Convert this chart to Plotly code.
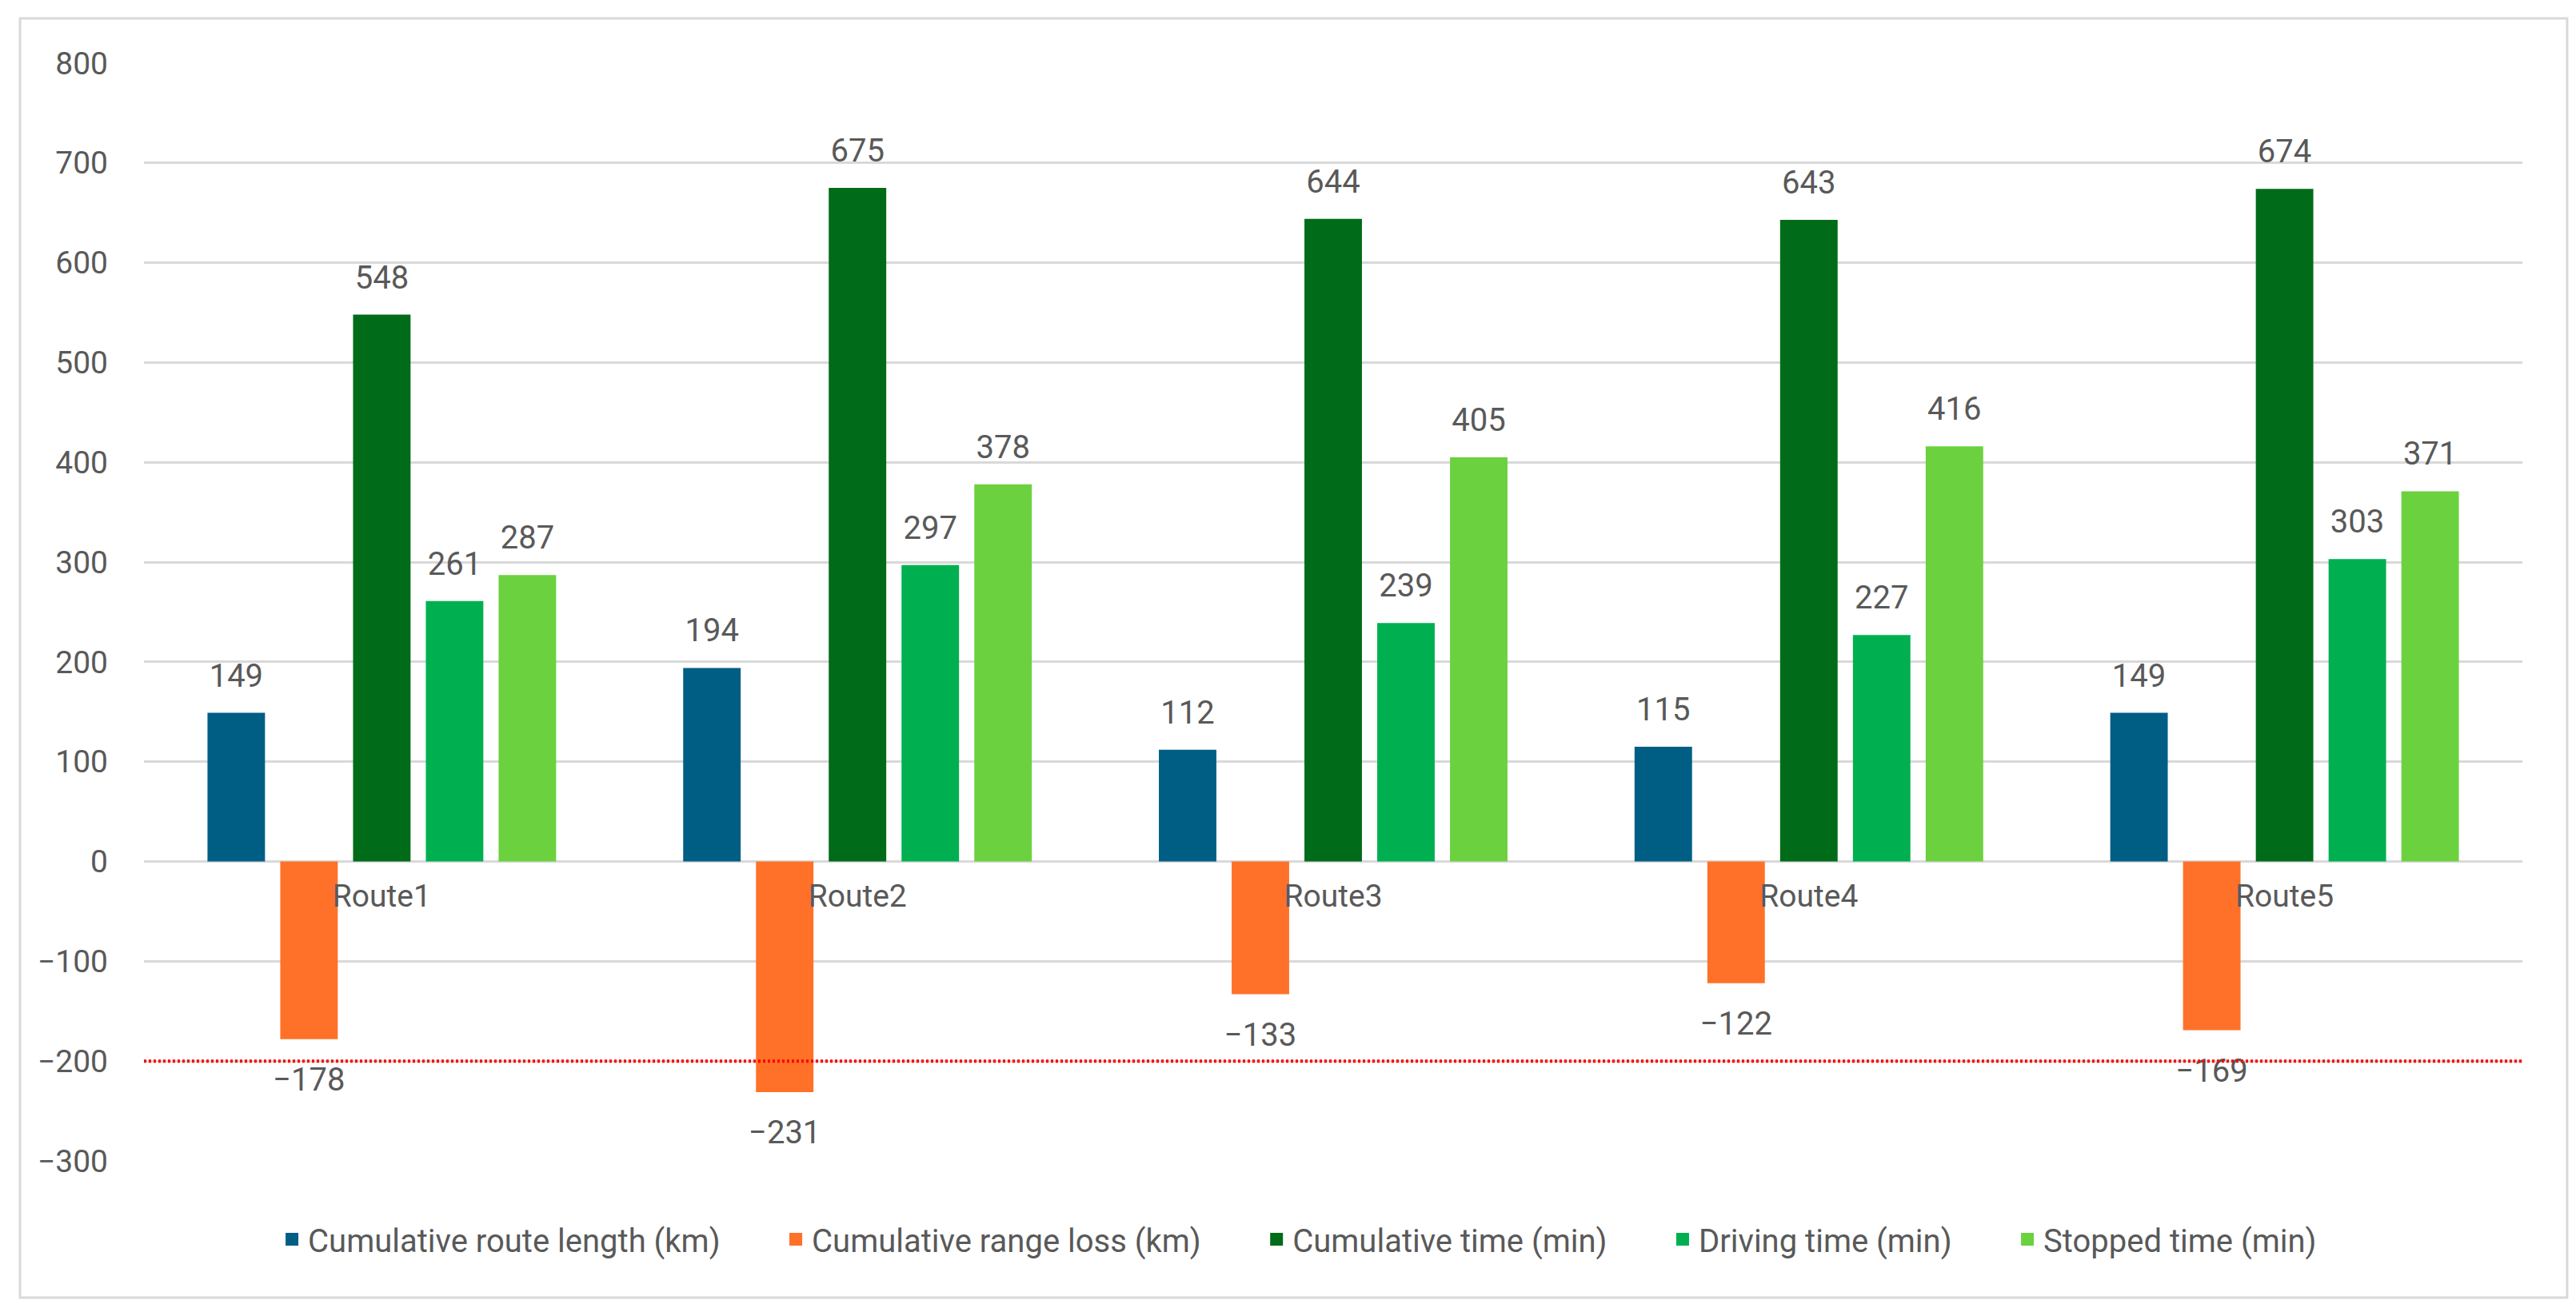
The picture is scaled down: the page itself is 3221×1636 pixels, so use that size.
import plotly.graph_objects as go

routes = ["Route1", "Route2", "Route3", "Route4", "Route5"]
route_length = [149, 194, 112, 115, 149]
range_loss = [-178, -231, -133, -122, -169]
cumulative_time = [548, 675, 644, 643, 674]
driving_time = [261, 297, 239, 227, 303]
stopped_time = [287, 378, 405, 416, 371]
threshold = -200

series_names = [
    "Cumulative route length (km)",
    "Cumulative range loss (km)",
    "Cumulative time (min)",
    "Driving time (min)",
    "Stopped time (min)",
]
series_values = [route_length, range_loss, cumulative_time, driving_time, stopped_time]
colors = ["#005E85", "#FF7128", "#006B18", "#00B050", "#6CD13F"]

GRAY = "#595959"
FONT = "Roboto"
LABEL_FS = 40
TICK_FS = 39
LEG_FS = 40
BARGAP = 0.235


def fmt(v):
    return ("\u2212" + str(-v)) if v < 0 else str(v)


fig = go.Figure()
for i, (name, vals, col) in enumerate(zip(series_names, series_values, colors)):
    fig.add_trace(go.Bar(
        x=routes, y=vals, name=name, showlegend=False, offsetgroup=f"g{i}",
        marker=dict(color=col, line=dict(width=0)),
    ))

# data labels: text placed at each bar end, grouped the same way as the bars
for i, (name, vals) in enumerate(zip(series_names, series_values)):
    neg = all(v < 0 for v in vals)
    fig.add_trace(go.Scatter(
        x=routes, y=vals, mode="markers+text", showlegend=False, offsetgroup=f"g{i}",
        marker=dict(size=53.4 if neg else 35.2, opacity=0),
        text=[fmt(v) for v in vals],
        textposition="bottom center" if neg else "top center",
        textfont=dict(family=FONT, size=LABEL_FS, color=GRAY),
        cliponaxis=False, hoverinfo="skip",
    ))

# legend entries with square swatches (non-breaking spaces widen the gap between entries)
pad = "\u00a0" * 7
for i, (name, col) in enumerate(zip(series_names, colors)):
    fig.add_trace(go.Scatter(
        x=[None], y=[None], mode="markers", offsetgroup=f"g{i}",
        name=name + (pad if i < len(series_names) - 1 else ""),
        marker=dict(symbol="square", size=16, color=col),
        hoverinfo="skip",
    ))

ymin, ymax = -300, 800

fig.add_shape(type="line", xref="paper", x0=0, x1=1, yref="y", y0=threshold, y1=threshold,
              line=dict(color="#FF0000", width=4, dash="3px,3px"), layer="above")

# outer chart border
fig.add_shape(type="rect", xref="paper", yref="paper",
              x0=-0.0521, x1=1.0188, y0=-0.1245, y1=1.0408,
              line=dict(color="#D9D9D9", width=3), fillcolor="rgba(0,0,0,0)", layer="below")

fig.update_layout(
    width=3221, height=1636,
    margin=dict(l=172, r=75, t=71, b=192),
    paper_bgcolor="white", plot_bgcolor="white",
    barmode="group", bargap=BARGAP, bargroupgap=0.21,
    scattermode="group", scattergap=BARGAP,
    font=dict(family=FONT, size=TICK_FS, color=GRAY),
    showlegend=True,
    legend=dict(orientation="h", x=0.4854, xanchor="center", y=-0.0714, yanchor="middle",
                font=dict(family=FONT, size=LEG_FS, color=GRAY), itemclick=False,
                itemdoubleclick=False),
    xaxis=dict(type="category", anchor="free", position=(0 - ymin) / (ymax - ymin),
               showgrid=False, showline=False, ticks="", zeroline=False,
               tickfont=dict(family=FONT, size=TICK_FS, color=GRAY), ticklabelstandoff=16),
    yaxis=dict(range=[ymin, ymax], dtick=100, showgrid=True, gridcolor="#D9D9D9", gridwidth=3,
               zeroline=True, zerolinecolor="#D9D9D9", zerolinewidth=3, showline=False,
               tickfont=dict(family=FONT, size=TICK_FS, color=GRAY), ticklabelstandoff=44),
)

fig.write_html("out.html")
